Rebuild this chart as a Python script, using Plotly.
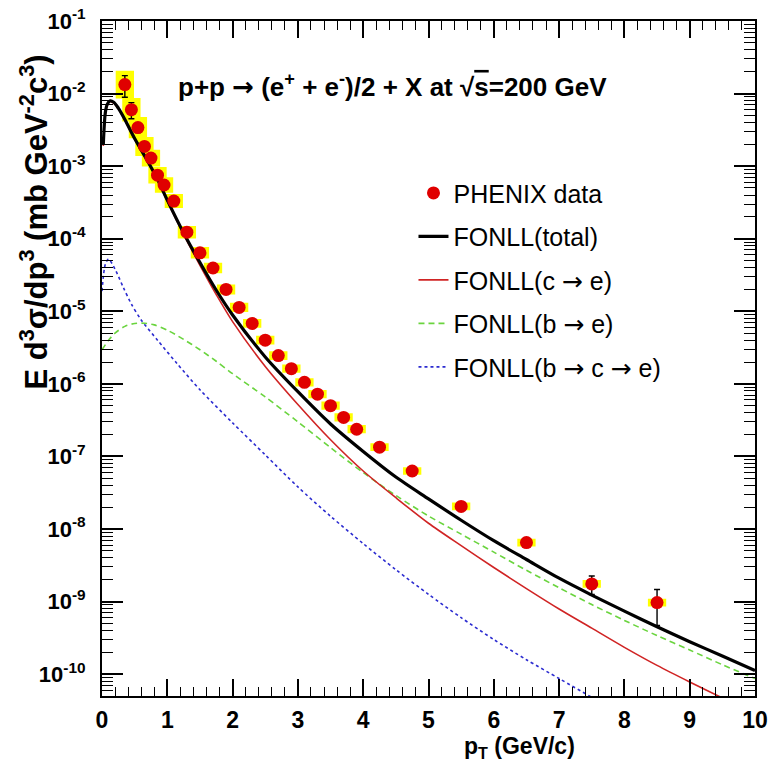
import plotly.graph_objects as go

# ---------------- PHENIX heavy-flavour electrons, p+p at sqrt(s)=200 GeV ----------------
pt = [0.35, 0.45, 0.55, 0.65, 0.75, 0.85, 0.95, 1.1, 1.3, 1.5, 1.7, 1.9, 2.1, 2.3,
      2.5, 2.7, 2.9, 3.1, 3.3, 3.5, 3.7, 3.9, 4.25, 4.75, 5.5, 6.5, 7.5, 8.5]
xsec = [1.33e-2, 6.0e-3, 3.4e-3, 1.87e-3, 1.29e-3, 7.5e-4, 5.5e-4, 3.3e-4, 1.23e-4,
        6.4e-5, 3.95e-5, 2.0e-5, 1.13e-5, 6.8e-6, 4.0e-6, 2.45e-6, 1.62e-6, 1.05e-6,
        7.2e-7, 5.0e-7, 3.45e-7, 2.37e-7, 1.34e-7, 6.3e-8, 2.05e-8, 6.5e-9, 1.75e-9, 9.7e-10]
stat_err = [4.4e-3, 1.5e-3, 5.0e-4, 2.5e-4, 1.0e-4, 5.0e-5, 3.0e-5, 1.5e-5, 5.0e-6,
            2.5e-6, 1.5e-6, 7.0e-7, 4.0e-7, 2.5e-7, 1.5e-7, 1.0e-7, 7.0e-8, 5.0e-8,
            3.5e-8, 2.5e-8, 2.0e-8, 1.5e-8, 8.0e-9, 4.5e-9, 1.8e-9, 8.0e-10, 5.0e-10, 5.0e-10]
# multiplicative systematic band (upper = y*f, lower = y/f)
sys_factor = [1.55, 1.45, 1.40, 1.35, 1.30, 1.30, 1.28, 1.25, 1.22, 1.20, 1.18, 1.17,
              1.16, 1.15, 1.15, 1.15, 1.14, 1.14, 1.14, 1.14, 1.14, 1.14, 1.13, 1.13,
              1.13, 1.13, 1.13, 1.13]
box_halfwidth = 0.14

# ---------------- FONLL predictions ----------------
fonll_pt = [0.02, 0.05, 0.08, 0.12, 0.18, 0.25, 0.35, 0.5, 0.7, 0.85, 1.0, 1.25, 1.5,
            1.75, 2.0, 2.5, 3.0, 3.5, 4.0, 4.5, 5.0, 5.5, 6.0, 6.5, 7.0, 7.5, 8.0, 8.5,
            9.0, 9.5, 10.0]
fonll_total = [2.0e-3, 5.4e-3, 7.1e-3, 7.9e-3, 7.6e-3, 6.3e-3, 4.4e-3, 2.4e-3, 1.17e-3,
               6.6e-4, 3.4e-4, 1.2e-4, 4.7e-5, 1.95e-5, 8.9e-6, 2.35e-6, 7.8e-7, 2.8e-7,
               1.17e-7, 5.2e-8, 2.6e-8, 1.32e-8, 6.9e-9, 3.8e-9, 2.1e-9, 1.23e-9, 7.4e-10,
               4.5e-10, 2.8e-10, 1.78e-10, 1.12e-10]
fonll_c = [1.9e-3, 5.1e-3, 6.8e-3, 7.8e-3, 7.4e-3, 6.2e-3, 4.3e-3, 2.35e-3, 1.15e-3,
           6.5e-4, 3.3e-4, 1.15e-4, 4.3e-5, 1.7e-5, 7.2e-6, 1.74e-6, 5.2e-7, 1.7e-7,
           6.3e-8, 2.7e-8, 1.2e-8, 5.9e-9, 2.95e-9, 1.51e-9, 7.9e-10, 4.3e-10, 2.34e-10,
           1.32e-10, 7.8e-11, 4.7e-11, 2.8e-11]

fonll_b_pt = [0.0, 0.1, 0.2, 0.35, 0.5, 0.65, 0.8, 1.0, 1.25, 1.5, 1.75, 2.0, 2.5, 3.0,
              3.5, 4.0, 4.5, 5.0, 5.5, 6.0, 6.5, 7.0, 7.5, 8.0, 8.5, 9.0, 9.5, 10.0]
fonll_b = [2.95e-6, 4.0e-6, 5.0e-6, 6.2e-6, 6.8e-6, 6.85e-6, 6.5e-6, 5.5e-6, 4.1e-6,
           2.95e-6, 2.05e-6, 1.38e-6, 6.6e-7, 3.0e-7, 1.32e-7, 6.0e-8, 2.9e-8, 1.51e-8,
           8.5e-9, 4.8e-9, 2.7e-9, 1.55e-9, 9.1e-10, 5.5e-10, 3.4e-10, 2.15e-10,
           1.35e-10, 8.7e-11]

fonll_bc_pt = [0.0, 0.05, 0.1, 0.2, 0.33, 0.45, 0.6, 0.85, 1.15, 1.5, 2.0, 2.5, 3.0,
               3.5, 4.0, 4.5, 5.0, 5.5, 6.0, 6.5, 7.0, 7.5, 8.0]
fonll_bc = [1.9e-5, 4.4e-5, 5.25e-5, 3.8e-5, 2.1e-5, 1.26e-5, 7.6e-6, 4.0e-6, 1.9e-6,
            8.3e-7, 2.9e-7, 1.05e-7, 3.8e-8, 1.5e-8, 6.3e-9, 2.75e-9, 1.26e-9, 6.0e-10,
            3.0e-10, 1.58e-10, 8.7e-11, 4.8e-11, 2.7e-11]

y_tick_vals = [1e-10, 1e-9, 1e-8, 1e-7, 1e-6, 1e-5, 1e-4, 1e-3, 1e-2, 1e-1]
y_tick_text = ["10<sup>-10</sup>", "10<sup>-9</sup>", "10<sup>-8</sup>", "10<sup>-7</sup>",
               "10<sup>-6</sup>", "10<sup>-5</sup>", "10<sup>-4</sup>", "10<sup>-3</sup>",
               "10<sup>-2</sup>", "10<sup>-1</sup>"]
x_tick_vals = list(range(0, 11))

FONT = "Liberation Sans"
ARROW = "<span style='font-family:DejaVu Sans'>→</span>"

fig = go.Figure()

# systematic-uncertainty boxes
bx, by = [], []
for x, y, f in zip(pt, xsec, sys_factor):
    x0, x1 = x - box_halfwidth, x + box_halfwidth
    y0, y1 = y / f, y * f
    bx += [x0, x1, x1, x0, x0, None]
    by += [y0, y0, y1, y1, y0, None]
fig.add_trace(go.Scatter(x=bx, y=by, mode="lines", fill="toself",
                         fillcolor="#ffff00", line=dict(width=0),
                         hoverinfo="skip", showlegend=False, legendgroup="sys"))

fig.add_trace(go.Scatter(x=fonll_bc_pt, y=fonll_bc, mode="lines",
                         name=f"FONLL(b {ARROW} c {ARROW} e)",
                         line=dict(color="#2b2bd0", width=1.6, dash="dot", shape="spline", smoothing=0.8),
                         legendrank=5, legendgroup="bc"))
fig.add_trace(go.Scatter(x=fonll_b_pt, y=fonll_b, mode="lines", name=f"FONLL(b {ARROW} e)",
                         line=dict(color="#6ad43e", width=1.6, dash="6px,4px", shape="spline", smoothing=0.8),
                         legendrank=4, legendgroup="b"))
fig.add_trace(go.Scatter(x=fonll_pt, y=fonll_c, mode="lines", name=f"FONLL(c {ARROW} e)",
                         line=dict(color="#d02424", width=1.6, shape="spline", smoothing=0.8),
                         legendrank=3, legendgroup="c"))
fig.add_trace(go.Scatter(x=fonll_pt, y=fonll_total, mode="lines", name="FONLL(total)",
                         line=dict(color="black", width=3.2, shape="spline", smoothing=0.8),
                         legendrank=2, legendgroup="tot"))

fig.add_trace(go.Scatter(x=pt, y=xsec, mode="markers", name="PHENIX data",
                         marker=dict(color="#e00000", size=13, symbol="circle", line=dict(width=0)),
                         error_y=dict(type="data", array=stat_err, symmetric=True,
                                      color="black", thickness=1.4, width=3),
                         legendrank=1, legendgroup="data"))

minor_vals = [m * 10.0 ** e for e in range(-11, 0) for m in range(2, 10)]

fig.update_layout(
    width=771, height=765,
    margin=dict(l=102, r=16, t=21, b=69, autoexpand=False),
    paper_bgcolor="white", plot_bgcolor="white",
    font=dict(family=FONT, color="black"),
    showlegend=True,
    legend=dict(x=0.477, y=0.779, xanchor="left", yanchor="top",
                bgcolor="rgba(0,0,0,0)", font=dict(family=FONT, size=25, color="black"),
                tracegroupgap=8, traceorder="grouped"),
    xaxis=dict(range=[0, 10], showgrid=False, zeroline=False, automargin=False,
               showline=True, linecolor="black", linewidth=2, mirror="allticks",
               ticks="inside", ticklen=17, tickwidth=1.5, tickcolor="black",
               tickvals=x_tick_vals, ticktext=[str(v) for v in x_tick_vals],
               tickfont=dict(family=FONT, size=23, weight="bold", color="black"),
               ticklabelstandoff=2,
               minor=dict(dtick=0.2, tick0=0, ticks="inside", ticklen=9,
                          tickwidth=1.3, tickcolor="black", showgrid=False)),
    yaxis=dict(type="log", range=[-10.301, -1.0], showgrid=False, zeroline=False,
               automargin=False,
               showline=True, linecolor="black", linewidth=2, mirror="allticks",
               ticks="inside", ticklen=21, tickwidth=1.5, tickcolor="black",
               tickmode="array", tickvals=y_tick_vals, ticktext=y_tick_text,
               tickfont=dict(family=FONT, size=22, weight="bold", color="black"),
               ticklabelstandoff=10,
               minor=dict(tickmode="array", tickvals=minor_vals, ticks="inside",
                          ticklen=11, tickwidth=1.3, tickcolor="black", showgrid=False)),
)

fig.add_annotation(
    text=f"<b>p+p {ARROW} (e<sup>+</sup> + e<sup>-</sup>)/2 + X at √<span style='text-decoration:overline'>s</span>=200 GeV</b>",
    xref="paper", yref="paper", x=0.4456, y=0.9043, xanchor="center", yanchor="middle",
    showarrow=False, font=dict(family=FONT, size=26, color="black"))

fig.add_annotation(
    text="<b>E d<sup>3</sup>σ/dp<sup>3</sup> (mb GeV<sup>-2</sup>c<sup>3</sup>)</b>",
    xref="paper", yref="paper", x=-0.104, y=0.7015, xanchor="center", yanchor="middle",
    textangle=-90, showarrow=False, font=dict(family=FONT, size=31, color="black"))

fig.add_annotation(
    text="<b>p<sub>T</sub> (GeV/c)</b>",
    xref="paper", yref="paper", x=0.6386, y=-0.0765, xanchor="center", yanchor="middle",
    showarrow=False, font=dict(family=FONT, size=23, color="black"))

fig.write_html("out.html")
